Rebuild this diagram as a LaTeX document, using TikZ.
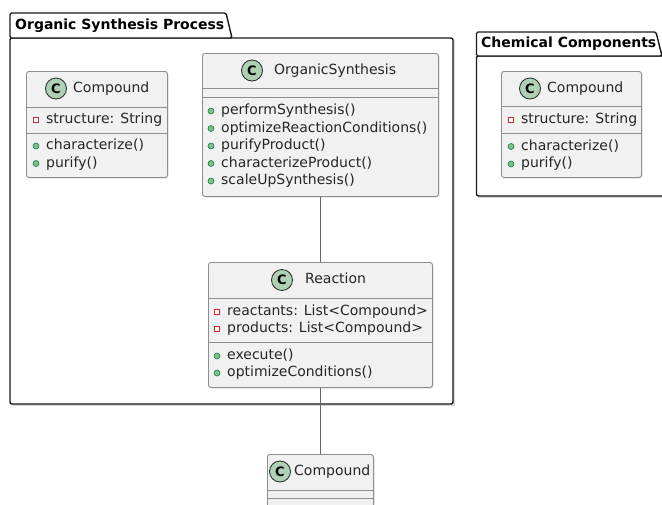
\documentclass[tikz,border=0pt]{standalone}
\usepackage{fontspec}
\setmainfont{DejaVu Sans}
\begin{document}
\begin{tikzpicture}[x=1pt,y=-1pt,
  classbox/.style={draw=boxline, fill=boxfill, line width=0.9pt, rounded corners=2.5pt, anchor=north west, inner sep=0pt},
  shadowbox/.style={fill=black!12, rounded corners=2.5pt, draw=none},
  divline/.style={draw=boxline, line width=0.9pt},
  member/.style={anchor=west, inner sep=0pt, text height=10.5pt, text depth=3pt, font=\fontsize{14}{16}\selectfont, text=black!85},
  ctitle/.style={anchor=west, inner sep=0pt, text height=10.5pt, text depth=3pt, font=\fontsize{14}{16}\selectfont, text=black!85},
  cbadge/.style={circle, draw=black!85, line width=0.8pt, fill=badge, minimum size=21pt, inner sep=0pt, font=\bfseries\fontsize{13}{13}\selectfont},
  privm/.style={rectangle, draw=privred, line width=0.8pt, fill=white, minimum size=5pt, inner sep=0pt},
  pubm/.style={circle, draw=pubdark, line width=0.6pt, fill=pubgreen, minimum size=6pt, inner sep=0pt},
  pkgline/.style={draw=black!90, line width=1.4pt},
  pkgtitle/.style={anchor=west, inner sep=0pt, font=\bfseries\fontsize{14}{16}\selectfont, text height=10.5pt, text depth=3pt},
  conn/.style={draw=black!60, line width=1pt}
]
\definecolor{boxline}{HTML}{8E8E8E}
\definecolor{boxfill}{HTML}{F1F1F1}
\definecolor{badge}{HTML}{ADD1B2}
\definecolor{privred}{HTML}{C82930}
\definecolor{pubgreen}{HTML}{84BE84}
\definecolor{pubdark}{HTML}{038048}
\useasboundingbox (0,0) rectangle (662,504);
\clip (0,0) rectangle (662,504);
\fill[white] (0,0) rectangle (662,504);

% ---------- Package: Organic Synthesis Process ----------
\fill[black!15] (11.5,39.5) rectangle (454.5,405.5);
\draw[pkgline, fill=white, rounded corners=2pt] (10,38) rectangle (453,404);
\draw[pkgline, fill=white, rounded corners=1.5pt] (10,38) -- (10,13) -- (226,13) -- (232,38) -- cycle;
\node[pkgtitle] (p1title) at (15,25.5) {Organic Synthesis Process};

% ---------- Package: Chemical Components ----------
\fill[black!15] (478,57.5) rectangle (670,197.5);
\draw[pkgline, fill=white, rounded corners=2pt] (476.5,56) rectangle (680,196);
\draw[pkgline, fill=white, rounded corners=1.5pt] (476.5,56) -- (476.5,32) -- (656,32) -- (662,56) -- cycle;
\node[pkgtitle] (p2title) at (481,44) {Chemical Components};

% ---------- Class: Compound (inside package 1) ----------
\fill[shadowbox] (27.5,72.5) rectangle (168.5,178.5);
\node[classbox, minimum width=141pt, minimum height=106pt] (c1) at (26,71) {};
\node[cbadge] (c1b) at (56,88.5) {C};
\node[ctitle] (c1t) at (73,88.5) {Compound};
\draw[divline] (26,107) -- (167,107);
\draw[divline] (26,133) -- (167,133);
\node[privm] (c1m1) at (36,119.5) {};
\node[member] (c1a1) at (46,119.5) {structure: String};
\node[pubm] (c1m2) at (36,146) {};
\node[member] (c1o1) at (46,146) {characterize()};
\node[pubm] (c1m3) at (36,163.5) {};
\node[member] (c1o2) at (46,163.5) {purify()};

% ---------- Class: OrganicSynthesis ----------
\fill[shadowbox] (203.5,54.5) rectangle (439.5,197.5);
\node[classbox, minimum width=236pt, minimum height=143pt] (os) at (202,53) {};
\node[cbadge] (osb) at (252,70.5) {C};
\node[ctitle] (ost) at (274,70.5) {OrganicSynthesis};
\draw[divline] (202,88) -- (438,88);
\draw[divline] (202,97) -- (438,97);
\node[pubm] (osm1) at (211,111) {};
\node[member] (oso1) at (221,111) {performSynthesis()};
\node[pubm] (osm2) at (211,128.5) {};
\node[member] (oso2) at (221,128.5) {optimizeReactionConditions()};
\node[pubm] (osm3) at (211,146) {};
\node[member] (oso3) at (221,146) {purifyProduct()};
\node[pubm] (osm4) at (211,163.5) {};
\node[member] (oso4) at (221,163.5) {characterizeProduct()};
\node[pubm] (osm5) at (211,181) {};
\node[member] (oso5) at (221,181) {scaleUpSynthesis()};

% ---------- Class: Reaction ----------
\fill[shadowbox] (209.5,263.5) rectangle (433.5,388.5);
\node[classbox, minimum width=224pt, minimum height=125pt] (rx) at (208,262) {};
\node[cbadge] (rxb) at (282,280) {C};
\node[ctitle] (rxt) at (305,280) {Reaction};
\draw[divline] (208,298) -- (432,298);
\draw[divline] (208,342) -- (432,342);
\node[privm] (rxm1) at (217,312) {};
\node[member] (rxa1) at (227,312) {reactants: List<Compound>};
\node[privm] (rxm2) at (217,329) {};
\node[member] (rxa2) at (227,329) {products: List<Compound>};
\node[pubm] (rxm3) at (217,356) {};
\node[member] (rxo1) at (227,356) {execute()};
\node[pubm] (rxm4) at (217,373) {};
\node[member] (rxo2) at (227,373) {optimizeConditions()};

% ---------- Class: Compound (Chemical Components) ----------
\fill[shadowbox] (502.5,72.5) rectangle (642.5,178.5);
\node[classbox, minimum width=140pt, minimum height=106pt] (c2) at (501,71) {};
\node[cbadge] (c2b) at (530,88.5) {C};
\node[ctitle] (c2t) at (547,88.5) {Compound};
\draw[divline] (501,106) -- (641,106);
\draw[divline] (501,133) -- (641,133);
\node[privm] (c2m1) at (511,119.5) {};
\node[member] (c2a1) at (521,119.5) {structure: String};
\node[pubm] (c2m2) at (511,146.5) {};
\node[member] (c2o1) at (521,146.5) {characterize()};
\node[pubm] (c2m3) at (511,164) {};
\node[member] (c2o2) at (521,164) {purify()};

% ---------- Class: Compound (bottom, cut off) ----------
\fill[shadowbox] (268.5,455.5) rectangle (374.5,530);
\node[classbox, minimum width=106pt, minimum height=70pt] (c3) at (267,454) {};
\node[cbadge] (c3b) at (280,471.5) {C};
\node[ctitle] (c3t) at (294,471.5) {Compound};
\draw[divline] (267,490) -- (373,490);
\draw[divline] (267,498) -- (373,498);

% ---------- Connectors ----------
\draw[conn] (os.south -| rx.north) -- (rx.north);
\draw[conn] (rx.south) -- (c3.north);
\end{tikzpicture}
\end{document}
